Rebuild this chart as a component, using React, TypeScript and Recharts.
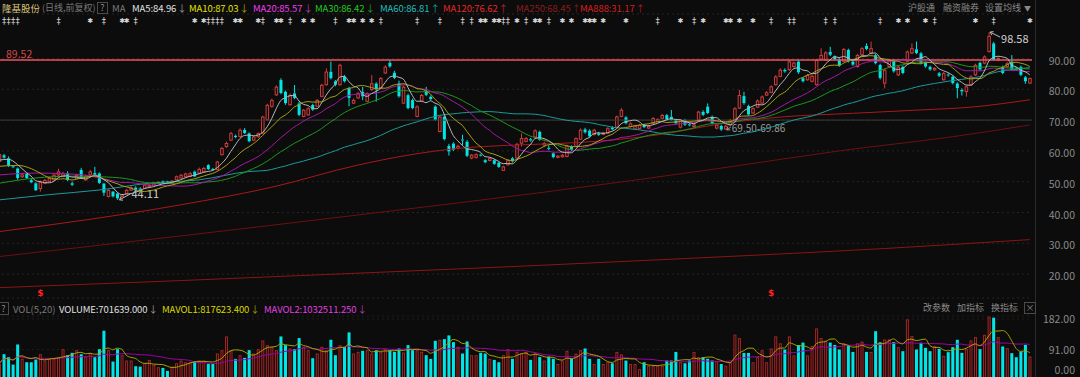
import React from "react";
import { ComposedChart, Bar, Line, XAxis, YAxis, CartesianGrid, ReferenceLine } from "recharts";

const BG = "#0c0c0c";
const UP = "#d23c3c";
const DOWN = "#00e6e6";
const FONT = '"Noto Sans CJK SC","Noto Sans",sans-serif';

const opens = [56.6,58.6,57.6,55.0,54.3,51.6,52.5,50.5,49.5,47.8,
49.5,50.1,50.6,52.2,51.7,52.7,49.5,51.1,53.8,50.6,
52.2,52.8,52.7,49.4,45.2,46.8,46.2,45.2,46.2,47.3,
48.1,47.8,47.9,48.5,48.9,49.5,50.1,50.1,49.6,50.6,
51.2,51.6,51.7,53.3,52.8,53.3,55.4,54.1,53.9,58.8,
61.4,63.5,64.9,64.7,66.8,65.7,63.5,64.6,65.8,70.1,
74.5,78.2,83.0,79.2,75.0,78.7,75.4,71.2,71.7,74.9,
74.5,77.7,81.5,85.7,82.6,81.5,84.1,80.3,75.5,77.2,
79.2,76.1,79.9,81.9,80.4,85.3,88.6,85.4,81.9,75.5,
78.1,76.5,71.2,76.1,79.2,77.6,74.4,66.3,71.1,61.6,
62.4,60.9,63.7,63.0,57.7,57.9,58.8,57.0,56.9,57.0,
56.2,53.7,55.5,57.6,57.7,62.5,63.1,63.8,64.5,66.2,
61.9,61.0,59.2,57.9,58.1,58.2,61.4,61.5,63.8,67.0,
66.6,65.3,65.7,65.4,65.8,67.6,67.7,71.2,70.9,67.9,
67.1,67.3,68.4,67.4,69.0,69.5,70.6,71.6,71.1,70.0,
67.7,70.0,68.6,67.9,70.1,72.7,74.4,71.1,67.4,68.1,
67.1,68.5,70.1,73.9,77.8,74.6,72.3,74.2,75.5,78.1,
79.0,81.5,84.2,86.3,86.4,87.4,89.0,83.6,83.1,82.6,
81.5,89.8,89.6,92.2,90.6,89.7,89.1,92.8,89.0,87.4,
91.2,94.1,91.8,91.1,87.9,82.0,87.4,89.3,84.7,87.3,
89.1,91.8,93.0,91.7,88.6,87.3,86.3,85.2,83.1,84.8,
84.1,81.9,79.8,79.3,81.5,84.7,88.6,88.5,92.3,94.9,
89.5,87.3,87.4,89.0,86.8,87.3,83.9,82.0];

const highs = [59.5,59.0,58.2,55.4,54.6,52.6,53.0,51.0,49.8,50.4,
50.9,51.5,52.5,54.2,53.2,53.4,50.0,52.6,54.5,52.3,
53.8,54.8,53.0,49.6,47.5,47.0,46.5,46.0,47.6,48.5,
48.5,48.2,49.3,49.2,49.9,50.1,50.4,50.3,50.5,52.0,
52.5,52.9,53.2,53.6,54.6,54.8,55.7,54.5,56.8,61.3,
63.0,66.2,65.3,67.3,67.4,66.0,64.9,66.0,71.4,75.3,
77.0,81.3,83.6,79.6,78.6,81.4,76.0,73.6,74.2,75.3,
76.8,81.8,86.8,89.0,83.0,88.3,84.6,80.8,77.0,79.2,
80.8,79.0,84.6,82.3,84.0,87.8,89.4,86.0,82.8,81.2,
78.6,77.0,74.8,78.5,80.8,78.0,74.8,71.4,71.5,62.3,
62.8,62.0,65.2,63.5,59.0,59.2,59.1,57.3,57.9,57.3,
56.5,55.2,57.3,58.0,62.6,65.7,64.5,64.2,67.0,66.6,
63.0,61.8,59.5,58.6,59.0,62.0,61.8,64.4,67.3,67.5,
67.0,67.2,66.2,66.2,67.7,68.0,71.5,73.9,71.3,69.3,
68.5,68.8,68.8,68.5,71.0,70.6,72.0,72.0,73.3,70.4,
70.3,70.4,69.0,68.8,73.0,73.2,75.4,71.5,68.8,68.5,
68.5,70.4,74.2,79.8,79.2,75.0,74.2,76.7,78.0,79.4,
81.3,84.6,86.8,86.8,89.5,89.0,89.5,84.0,85.0,84.7,
89.9,93.3,92.4,93.8,91.0,90.1,93.4,93.2,89.4,91.5,
93.7,94.9,95.5,91.5,88.3,86.8,89.9,89.8,87.7,87.7,
92.6,94.9,95.5,92.1,89.0,87.7,87.2,85.6,85.6,85.2,
84.5,82.3,80.3,81.3,84.6,88.3,89.0,91.0,98.58,95.4,
90.4,87.7,88.8,91.1,87.2,87.7,84.3,83.8];

const lows = [56.2,57.5,54.8,54.4,50.6,51.2,50.9,49.5,47.0,46.8,
49.2,49.8,50.3,51.8,51.4,50.2,48.6,50.8,51.0,50.3,
51.9,52.0,49.3,45.4,44.9,44.9,44.11,44.9,46.0,47.0,
47.1,47.1,47.6,48.2,48.6,49.3,49.2,49.6,49.3,50.3,
51.0,51.4,51.5,51.5,52.5,53.0,53.8,53.6,53.7,58.5,
61.0,63.2,64.1,64.4,65.5,62.8,63.2,64.3,65.6,69.8,
74.0,77.9,78.4,75.0,74.7,76.8,71.3,70.9,71.4,73.0,
74.2,77.4,81.2,83.2,81.0,81.2,82.2,74.5,75.2,76.9,
76.5,75.8,79.5,76.0,80.0,85.0,87.0,83.3,77.3,75.2,
73.5,73.5,70.9,75.8,77.8,76.4,69.8,66.0,63.4,58.5,
60.0,60.5,61.9,58.0,57.3,57.5,58.2,56.0,56.6,55.5,
54.5,53.5,55.2,56.2,57.4,61.4,62.8,63.0,64.2,63.3,
61.5,60.2,57.6,57.6,57.8,57.9,60.0,61.2,63.5,65.6,
64.3,65.0,64.9,65.1,65.5,66.7,67.4,70.9,68.6,67.6,
66.8,67.0,67.4,67.1,68.7,69.2,70.3,69.8,69.8,68.6,
67.3,68.1,68.0,67.6,69.8,71.3,72.0,68.6,67.0,66.5,
66.8,68.2,69.8,73.6,75.0,71.4,72.0,73.9,75.2,77.8,
78.7,81.2,83.9,85.4,86.0,87.0,85.0,82.2,82.8,82.2,
81.2,89.4,89.2,90.8,89.4,87.3,88.8,88.7,87.6,87.0,
90.9,92.7,91.4,88.1,83.2,80.3,87.0,85.4,84.3,84.9,
88.8,91.4,91.4,88.1,87.0,86.0,86.0,84.0,82.8,84.1,
81.6,77.1,78.0,77.6,81.2,84.3,86.0,88.1,91.9,89.2,
89.1,84.9,87.0,86.0,86.0,84.3,81.8,81.7];

const closes = [58.8,57.8,55.3,54.8,51.2,52.2,51.2,49.8,47.2,49.8,
50.4,51.0,52.1,53.2,52.6,50.6,49.0,52.1,51.2,51.8,
53.2,52.3,49.6,46.4,47.2,45.2,44.6,45.7,47.2,48.0,
47.4,47.4,48.9,48.8,49.5,49.8,49.5,49.9,50.2,51.6,
52.1,52.5,52.6,51.7,54.0,54.3,54.1,54.0,56.4,60.8,
62.4,65.6,64.5,66.7,65.8,63.1,64.5,65.6,71.0,74.8,
76.4,80.7,78.8,75.5,78.0,77.2,71.7,73.2,73.7,73.4,
76.4,81.3,85.6,83.6,81.5,87.8,82.6,77.2,76.4,78.6,
77.7,78.6,81.8,79.9,83.5,87.2,87.4,83.7,77.7,80.7,
73.9,73.9,74.3,78.0,78.2,76.8,70.1,71.0,63.8,59.8,
60.4,61.5,63.4,58.4,58.6,58.8,58.6,56.3,57.5,55.8,
54.8,54.8,56.9,56.6,62.1,64.0,64.0,63.4,66.5,63.6,
62.4,60.8,58.0,58.3,58.6,61.5,60.4,64.0,66.7,66.0,
64.7,66.7,65.2,65.8,67.2,67.0,71.0,73.2,69.0,68.8,
68.0,68.3,67.7,68.0,70.5,70.2,71.5,70.1,70.1,69.0,
69.9,68.5,68.3,68.4,72.6,71.7,72.3,69.0,68.3,66.9,
68.0,69.9,73.7,78.0,75.5,71.8,73.7,76.2,77.5,78.9,
80.8,84.0,86.2,85.8,88.9,88.5,85.5,82.6,84.5,84.2,
89.4,91.0,91.8,91.2,89.8,87.7,92.9,89.1,88.0,91.0,
93.2,93.1,93.2,88.5,83.7,86.2,89.4,85.8,87.2,85.3,
92.1,93.2,91.8,88.5,87.4,86.4,86.8,84.4,85.1,84.5,
82.0,80.4,79.3,80.8,84.0,87.8,86.4,90.5,97.2,89.6,
90.0,85.3,88.3,86.4,86.4,84.7,82.6,83.5];

// volume in 10k lots
const volumes = [48,77,68,46,106,63,53,53,61,77,
58,63,63,68,92,74,81,89,77,70,
81,68,92,147,89,55,92,74,58,58,
41,40,51,60,45,38,36,27,40,50,
58,53,53,56,58,58,48,48,79,89,
130,89,63,74,66,89,79,92,118,104,
99,89,130,104,94,92,125,99,89,65,
79,99,89,120,74,104,99,142,79,84,
87,89,79,89,84,92,89,84,94,82,
104,89,89,84,74,63,117,120,122,133,
113,99,79,115,74,74,81,79,63,60,
53,74,92,63,84,79,84,60,79,
68.4,58.1,70.4,63.2,47.8,58.1,86.9,63.2,78.7,89,
94.1,63.2,47.8,63.2,47.8,53,49.9,83.8,76.6,58.1,
47.8,47.8,32.4,53,42.7,42.7,42.7,42.7,58.1,58.1,
83.8,53,49.9,58.1,83.8,68.4,68.4,63.2,58.1,56,
47.8,42.7,53,135.3,125,80.7,80.7,53,68.4,89,
53,94.1,130.1,109.5,91,130.1,73.5,104.4,111.6,73.5,
101.3,153.8,125,117.8,111.6,104.4,91,109.5,101.3,83.8,
109.5,114.7,83.8,83.8,145.6,112.6,
121,121,113,98,86,181,131,91,111,96,
86,101,93,72,83,98,120,81,92,118,
128,92,135,189,186,128,100,95,80,68,
85,105,70.2];

type Pt = [number, number];
const ma5Seed: Pt[] = [[0, 57.0], [2, 57.3]];
const ma10Seed: Pt[] = [[0, 55.0], [4, 55.3]];
const ma20Seed: Pt[] = [[0, 52.2], [8, 52.8], [14, 52.6]];
const ma30Seed: Pt[] = [[0, 49.5], [8, 51.2], [16, 51.8], [24, 51.5]];
const ma60Seed: Pt[] = [[0, 44.1], [11, 45.8], [22, 47.3], [33, 49.5], [44, 50.6], [55, 53.3]];
const ma120Read: Pt[] = [[0, 33.8], [20, 37.8], [40, 42.5], [60, 48.2], [79, 55.4], [90, 58.6], [101, 60.8], [112, 61.8], [123, 62.4], [134, 63.4], [145, 65.2], [159, 68.8], [173, 71.1], [188, 72.2], [203, 73.3], [214, 74.2], [227, 76.6]];
const ma250Read: Pt[] = [[0, 25.7], [40, 32.4], [79, 39.2], [120, 46.6], [159, 54.4], [185, 60.0], [210, 64.6], [227, 68.4]];
const ma888Read: Pt[] = [[0, 15.6], [40, 17.9], [79, 20.3], [120, 22.9], [159, 25.6], [195, 28.3], [227, 31.2]];

const starMarks = [20, 27, 28, 43, 45, 52, 53, 57, 61, 62, 67, 69, 77, 78, 80, 82, 106, 107, 109, 110, 114, 118, 119, 124, 126, 129, 130, 131, 133, 138, 150, 155, 160, 161, 163, 166, 198, 200, 204, 215, 227];
const daggerMarks = [1, 2, 3, 4, 13, 23, 30, 46, 47, 48, 49, 58, 64, 74, 84, 92, 97, 102, 104, 111, 112, 116, 121, 145, 153, 170, 174, 175, 182, 184, 194, 206, 219];
const dollarMarks = [9, 170];
const lowNote = { idx: 26, text: "44.11" };
const highNote = { idx: 218, text: "98.58" };
const gapNote = { idx: 160, text: "69.50-69.86" };

const yTicks = [20, 30, 40, 50, 60, 70, 80, 90];
const volTicks = [0, 91, 182];
const resistance = 89.52;
const PRICE_MIN = 12.24;
const PRICE_MAX = 104.45;
const VOL_MAX = 190.95;

function movingAvg(src: number[], n: number, seed: Pt[]) {
  const out: (number | null)[] = src.map(() => null);
  seed.forEach(([i, v]) => { out[i] = v; });
  let sum = 0;
  for (let i = 0; i < src.length; i++) {
    sum += src[i];
    if (i >= n) sum -= src[i - n];
    if (i >= n - 1) out[i] = sum / n;
  }
  return out;
}
function sparse(len: number, pts: Pt[]) {
  const out: (number | null)[] = new Array(len).fill(null);
  pts.forEach(([i, v]) => { out[i] = v; });
  return out;
}
function avgPartial(src: number[], n: number) {
  return src.map((_, i) => {
    const s = Math.max(0, i - n + 1);
    let t = 0;
    for (let k = s; k <= i; k++) t += src[k];
    return t / (i - s + 1);
  });
}

const N = closes.length;
const ma5 = movingAvg(closes, 5, ma5Seed);
const ma10 = movingAvg(closes, 10, ma10Seed);
const ma20 = movingAvg(closes, 20, ma20Seed);
const ma30 = movingAvg(closes, 30, ma30Seed);
const ma60 = movingAvg(closes, 60, ma60Seed);
const ma120 = sparse(N, ma120Read);
const ma250 = sparse(N, ma250Read);
const ma888 = sparse(N, ma888Read);
const mv5 = avgPartial(volumes, 5);
const mv20 = avgPartial(volumes, 20);

const rows = closes.map((c, i) => ({
  i,
  o: opens[i], h: highs[i], l: lows[i], c,
  rng: [lows[i], highs[i]],
  up: c >= opens[i],
  ma5: ma5[i], ma10: ma10[i], ma20: ma20[i], ma30: ma30[i], ma60: ma60[i],
  ma120: ma120[i], ma250: ma250[i], ma888: ma888[i],
  vol: volumes[i], mv5: mv5[i], mv20: mv20[i],
  mark: starMarks.includes(i) ? "✱" : daggerMarks.includes(i) ? "‡" : null,
  dollar: dollarMarks.includes(i),
  note: i === lowNote.idx ? "low" : i === highNote.idx ? "high" : i === gapNote.idx ? "gap" : null,
}));

function Arrow({ x1, y1, x2, y2, color }: any) {
  const a = Math.atan2(y2 - y1, x2 - x1);
  const L = 3.5;
  const h1x = x1 + L * Math.cos(a + 0.6), h1y = y1 + L * Math.sin(a + 0.6);
  const h2x = x1 + L * Math.cos(a - 0.6), h2y = y1 + L * Math.sin(a - 0.6);
  return (
    <g stroke={color} strokeWidth={1}>
      <line x1={x1} y1={y1} x2={x2} y2={y2} />
      <line x1={x1} y1={y1} x2={h1x} y2={h1y} />
      <line x1={x1} y1={y1} x2={h2x} y2={h2y} />
    </g>
  );
}

function Candle(props: any) {
  const { x, y, width, height, payload } = props;
  if (x == null || y == null || !payload) return null;
  const cx = x + width / 2;
  const top = Math.min(y, y + height);
  const bot = Math.max(y, y + height);
  const { o, h, l, c } = payload;
  const span = h - l || 1;
  const py = (v: number) => top + ((h - v) / span) * (bot - top);
  const up = c >= o;
  const col = up ? UP : DOWN;
  const bt = py(Math.max(o, c));
  const bh = Math.max(py(Math.min(o, c)) - bt, 1);
  return (
    <g>
      <line x1={cx} x2={cx} y1={top} y2={bt} stroke={col} strokeWidth={1} />
      <line x1={cx} x2={cx} y1={bt + bh} y2={bot} stroke={col} strokeWidth={1} />
      {up ? (
        <rect x={cx - 1.25} y={bt} width={2.5} height={bh} fill={BG} stroke={col} strokeWidth={1} />
      ) : (
        <rect x={cx - 1.5} y={bt} width={3} height={bh} fill={col} />
      )}
      {payload.mark && (
        <text x={cx} y={21} textAnchor="middle" dominantBaseline="central" fontSize={payload.mark === "✱" ? 7 : 8.5} fill="#d6d6d6" fontFamily="DejaVu Sans">{payload.mark}</text>
      )}
      {payload.dollar && (
        <text x={cx} y={293} textAnchor="middle" dominantBaseline="central" fontSize={9} fontWeight="bold" fill="#ff2424" fontFamily="DejaVu Sans">$</text>
      )}
      {payload.note === "low" && (
        <g>
          <Arrow x1={cx + 2} y1={py(l)} x2={cx + 13} y2={py(l) - 6} color="#bdbdbd" />
          <text x={cx + 14} y={py(l) - 7} dominantBaseline="central" fontSize={11} fill="#d0d0d0" fontFamily={FONT}>{lowNote.text}</text>
        </g>
      )}
      {payload.note === "high" && (
        <g>
          <Arrow x1={cx + 1} y1={py(h)} x2={cx + 11} y2={py(h) + 5} color="#bdbdbd" />
          <text x={cx + 12} y={py(h) + 6} dominantBaseline="central" fontSize={11} fill="#d0d0d0" fontFamily={FONT}>{highNote.text}</text>
        </g>
      )}
      {payload.note === "gap" && (
        <g>
          <Arrow x1={cx + 1} y1={py(l)} x2={cx + 5} y2={py(l) - 3} color="#9a9a9a" />
          <text x={cx + 6} y={py(l) - 2} dominantBaseline="central" fontSize={10} fill="#9a9a9a" fontFamily={FONT}>{gapNote.text}</text>
        </g>
      )}
    </g>
  );
}

function VolBar(props: any) {
  const { x, y, width, height, payload } = props;
  if (x == null || y == null || !payload) return null;
  const top = Math.min(y, y + height);
  const hh = Math.abs(height);
  if (payload.up) {
    return <rect x={x + 0.5} y={top + 0.5} width={Math.max(width - 1, 1)} height={Math.max(hh, 1)} fill="#1e0707" stroke="#a22626" strokeWidth={1} />;
  }
  return <rect x={x} y={top} width={width} height={hh} fill={DOWN} />;
}

const PriceTick = (p: any) => (
  <text x={1078} y={p.y + 1.5} textAnchor="end" dominantBaseline="central" fontSize={10.5} fill="#8a8a8a" fontFamily={FONT}>
    {Number(p.payload.value).toFixed(2)}
  </text>
);
const VolTick = (p: any) => (
  <text x={1078} y={p.payload.value === 0 ? p.y - 11 : p.y} textAnchor="end" dominantBaseline="central" fontSize={10.5} fill="#8a8a8a" fontFamily={FONT}>
    {Number(p.payload.value).toFixed(2)}
  </text>
);

function Txt({ x, y, c, s = 9.5, ls = 0, children }: any) {
  return (
    <span style={{ position: "absolute", left: x, top: y - 8, height: 16, lineHeight: "16px", fontSize: s, letterSpacing: ls, color: c, fontFamily: FONT, whiteSpace: "nowrap" }}>
      {children}
    </span>
  );
}
function Lbl({ x, y, c, ac, arrow, children }: any) {
  return (
    <Txt x={x} y={y} c={c} ls={-0.1}>
      {children}
      <span style={{ color: ac, marginLeft: 1 }}>{arrow}</span>
    </Txt>
  );
}
function Box({ x, y, w, h, children }: any) {
  return (
    <span style={{ position: "absolute", left: x, top: y, width: w, height: h, border: "1px solid #4a4a4a", boxSizing: "border-box", color: "#8a8a8a", fontSize: 9, lineHeight: `${h - 2}px`, textAlign: "center", fontFamily: FONT }}>
      {children}
    </span>
  );
}

const lineProps = { dot: false, isAnimationActive: false, connectNulls: true, type: "monotone" as const, strokeWidth: 1, activeDot: false };

export default function App() {
  return (
    <div style={{ position: "fixed", left: 0, top: 0, width: 1080, height: 377, background: BG, overflow: "hidden" }}>
      <div style={{ position: "absolute", left: -3, top: 0 }}>
        <ComposedChart width={1083} height={300} data={rows} margin={{ top: 14, right: 0, bottom: 2, left: 0 }}>
          <CartesianGrid vertical={false} stroke="#242424" strokeDasharray="2 3" />
          <XAxis dataKey="i" hide />
          <YAxis orientation="right" width={48} domain={[PRICE_MIN, PRICE_MAX]} ticks={yTicks} axisLine={false} tickLine={false} tick={PriceTick} allowDataOverflow interval={0} />
          <ReferenceLine y={70} stroke="#3c3c3c" />
          <Line dataKey="ma888" stroke="#8e1414" {...lineProps} />
          <Line dataKey="ma250" stroke="#6e1010" {...lineProps} />
          <Line dataKey="ma120" stroke="#a81a1a" {...lineProps} />
          <Line dataKey="ma60" stroke="#1d9a9a" {...lineProps} />
          <Bar dataKey="rng" barSize={3} shape={(p: any) => <Candle {...p} />} isAnimationActive={false} />
          <ReferenceLine y={resistance} stroke="#ee5560" strokeWidth={1.5} />
          <Line dataKey="ma30" stroke="#1f961f" {...lineProps} />
          <Line dataKey="ma20" stroke="#a41aa4" {...lineProps} />
          <Line dataKey="ma10" stroke="#a6a016" {...lineProps} />
          <Line dataKey="ma5" stroke="#b8b8b8" {...lineProps} />
        </ComposedChart>
      </div>

      <div style={{ position: "absolute", left: -3, top: 300 }}>
        <ComposedChart width={1083} height={80} data={rows} margin={{ top: 16, right: 0, bottom: 0, left: 0 }}>
          <CartesianGrid vertical={false} stroke="#1e1e1e" strokeDasharray="2 3" />
          <XAxis dataKey="i" hide />
          <YAxis orientation="right" width={48} domain={[0, VOL_MAX]} ticks={volTicks} axisLine={false} tickLine={false} tick={VolTick} allowDataOverflow interval={0} />
          <Bar dataKey="vol" barSize={3} shape={(p: any) => <VolBar {...p} />} isAnimationActive={false} />
          <Line dataKey="mv20" stroke="#a000a8" {...lineProps} />
          <Line dataKey="mv5" stroke="#a8a400" {...lineProps} />
        </ComposedChart>
      </div>

      <div style={{ position: "absolute", left: 1035, top: 0, width: 1, height: 377, background: "#2a2a2a" }} />

      <Txt x={2} y={8} c="#d9c27c">隆基股份</Txt>
      <Txt x={42} y={8} c="#7a7a7a" s={9}>(日线,前复权)</Txt>
      <Box x={97} y={2} w={11} h={12}>?</Box>
      <Txt x={112} y={8} c="#7a7a7a">MA</Txt>
      <Lbl x={132} y={8} c="#e0e0e0" ac="#9a9a9a" arrow="↓">MA5:84.96</Lbl>
      <Lbl x={189} y={8} c="#e2e200" ac="#a6a000" arrow="↓">MA10:87.03</Lbl>
      <Lbl x={253} y={8} c="#f03cf0" ac="#b83cb8" arrow="↓">MA20:85.57</Lbl>
      <Lbl x={315} y={8} c="#22c822" ac="#22a022" arrow="↓">MA30:86.42</Lbl>
      <Lbl x={380} y={8} c="#1fbcbc" ac="#1a9a9a" arrow="↑">MA60:86.81</Lbl>
      <Lbl x={443} y={8} c="#e22828" ac="#c02020" arrow="↑">MA120:76.62</Lbl>
      <Lbl x={516} y={8} c="#8a1c1c" ac="#7a1a1a" arrow="↑">MA250:68.45</Lbl>
      <Lbl x={580} y={8} c="#d61e1e" ac="#b01818" arrow="↑">MA888:31.17</Lbl>
      <Txt x={908} y={8} c="#8a8a8a" s={9}>沪股通</Txt>
      <Txt x={943} y={8} c="#8a8a8a" s={9}>融资融券</Txt>
      <Txt x={985} y={8} c="#8a8a8a" s={9}>设置均线</Txt>
      <Txt x={1024} y={8} c="#8a8a8a" s={7}>▼</Txt>

      <Txt x={6} y={54} c="#d04848" s={10.5}>89.52</Txt>

      <Box x={-2} y={302} w={11} h={13}>?</Box>
      <Txt x={13} y={309} c="#7a7a7a">VOL(5,20)</Txt>
      <Lbl x={59} y={309} c="#e0e0e0" ac="#9a9a9a" arrow="↓">VOLUME:701639.000</Lbl>
      <Lbl x={162} y={309} c="#d8d800" ac="#a6a000" arrow="↓">MAVOL1:817623.400</Lbl>
      <Lbl x={264} y={309} c="#e040e0" ac="#b040b0" arrow="↓">MAVOL2:1032511.250</Lbl>
      <Txt x={923} y={308} c="#8a8a8a" s={9}>改参数</Txt>
      <Txt x={957} y={308} c="#8a8a8a" s={9}>加指标</Txt>
      <Txt x={991} y={308} c="#8a8a8a" s={9}>换指标</Txt>
      <Box x={1024} y={302} w={12} h={12}>×</Box>
    </div>
  );
}
